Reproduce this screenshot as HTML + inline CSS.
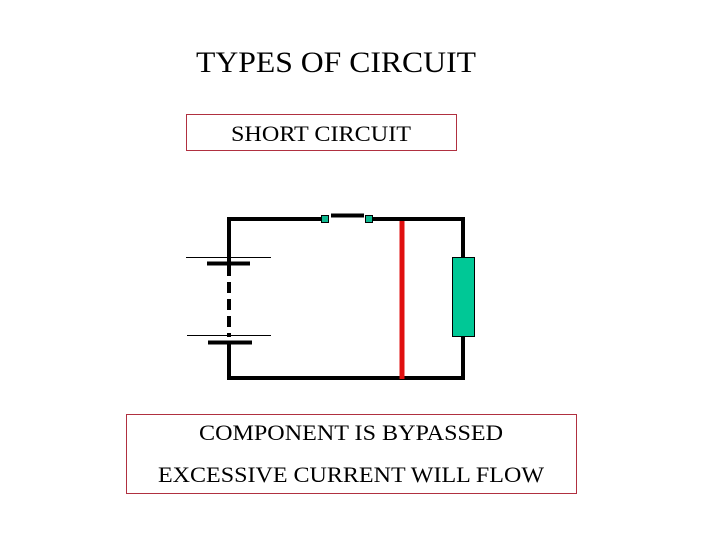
<!DOCTYPE html>
<html><head><meta charset="utf-8"><style>
html,body{margin:0;padding:0;background:#fff;}
svg{display:block;}
text{font-family:"Liberation Serif",serif;fill:#000;}
</style></head><body>
<svg width="720" height="540" viewBox="0 0 720 540" xmlns="http://www.w3.org/2000/svg">
<rect width="720" height="540" fill="#fff"/>
<text x="196" y="72" font-size="30" textLength="280" lengthAdjust="spacingAndGlyphs">TYPES OF CIRCUIT</text>
<rect x="186.5" y="114.5" width="270" height="36" fill="none" stroke="#b03040" stroke-width="1"/>
<text x="231" y="141" font-size="22" textLength="180" lengthAdjust="spacingAndGlyphs">SHORT CIRCUIT</text>
<!-- wires -->
<polyline points="323,219 229,219 229,263" fill="none" stroke="#000" stroke-width="4"/>
<polyline points="370,219 463,219 463,257" fill="none" stroke="#000" stroke-width="4"/>
<polyline points="229,342 229,378 463,378 463,336" fill="none" stroke="#000" stroke-width="4"/>
<line x1="229" y1="265" x2="229" y2="337" stroke="#000" stroke-width="4" stroke-dasharray="11,6"/>
<!-- battery -->
<line x1="186" y1="257.5" x2="271" y2="257.5" stroke="#000" stroke-width="1"/>
<line x1="207" y1="263.5" x2="250" y2="263.5" stroke="#000" stroke-width="4"/>
<line x1="187" y1="335.5" x2="271" y2="335.5" stroke="#000" stroke-width="1"/>
<line x1="208" y1="342.5" x2="252" y2="342.5" stroke="#000" stroke-width="4"/>
<!-- switch -->
<line x1="331" y1="215.5" x2="364" y2="215.5" stroke="#000" stroke-width="4"/>
<rect x="321.5" y="215.5" width="7" height="7" fill="#10b890" stroke="#000" stroke-width="1"/>
<rect x="365.5" y="215.5" width="7" height="7" fill="#10b890" stroke="#000" stroke-width="1"/>
<!-- short -->
<line x1="402" y1="221" x2="402" y2="379" stroke="#e01010" stroke-width="5"/>
<!-- resistor -->
<rect x="452.5" y="257.5" width="22" height="79" fill="#00c896" stroke="#000" stroke-width="1"/>
<rect x="126.5" y="414.5" width="450" height="79" fill="none" stroke="#b03040" stroke-width="1"/>
<text x="199" y="440" font-size="22" textLength="304" lengthAdjust="spacingAndGlyphs">COMPONENT IS BYPASSED</text>
<text x="158" y="482" font-size="22" textLength="386" lengthAdjust="spacingAndGlyphs">EXCESSIVE CURRENT WILL FLOW</text>
</svg>
</body></html>
